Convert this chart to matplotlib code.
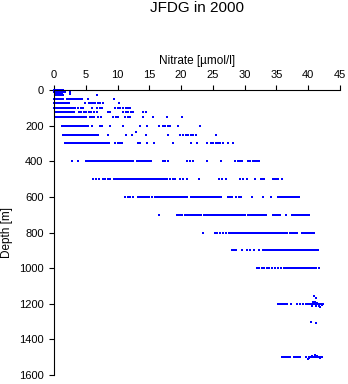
import matplotlib
matplotlib.use('Agg')
import matplotlib.pyplot as plt

plt.rcParams['font.family'] = ['Liberation Sans', 'DejaVu Sans']

# nitrate values (umol/l), one list per sampling depth
no3_0 = [0.0, 0.3, 0.6, 0.9, 1.2, 1.5]
no3_10 = [0.0, 0.3, 0.6, 0.9, 1.2, 1.5, 1.8, 2.6]
no3_20 = [0.1, 0.4, 0.7, 1.0, 1.3, 2.5]
no3_30 = [0.2, 0.5, 0.8, 1.1, 1.4, 6.8]
no3_50 = [0.0, 0.3, 0.6, 0.9, 1.2, 1.5, 2.0, 2.3, 2.6, 2.9, 3.2, 3.5, 3.8,
          4.1, 4.4, 5.3, 9.4]
no3_75 = [0.0, 0.3, 0.6, 0.9, 1.2, 1.5, 1.8, 2.1, 2.4, 4.9, 5.5, 5.8, 6.1,
          6.5, 6.9, 7.3, 7.7, 10.3]
no3_100 = [0.0, 0.3, 0.6, 0.9, 1.2, 1.5, 1.8, 2.1, 2.4, 2.7, 3.0, 3.3, 3.8,
           4.2, 4.6, 6.0, 6.8, 7.2, 7.6, 9.6, 10.0, 10.4, 10.9, 11.3, 11.7,
           12.0]
no3_125 = [0.2, 0.5, 0.8, 1.1, 1.4, 1.7, 2.0, 2.3, 2.6, 2.9, 3.2, 3.9, 4.3,
           4.7, 5.1, 5.5, 5.9, 6.3, 6.7, 8.5, 8.8, 10.9, 11.3, 11.7, 12.1,
           12.5, 14.0, 14.5]
no3_150 = [0.2, 0.5, 0.8, 1.1, 1.4, 1.7, 2.0, 2.3, 2.6, 2.9, 3.2, 3.5, 3.8,
           4.1, 4.4, 4.7, 5.0, 5.7, 6.0, 6.3, 7.0, 7.4, 9.3, 9.7, 10.1, 11.2,
           11.6, 12.0, 14.0, 15.6, 17.8, 20.2]
no3_200 = [1.2, 1.5, 1.8, 2.1, 2.4, 2.7, 3.0, 3.3, 3.6, 3.9, 4.2, 4.5, 4.8,
           5.1, 5.4, 6.0, 7.3, 7.6, 8.8, 10.9, 13.6, 14.6, 16.6, 17.1, 17.5,
           17.9, 18.3, 19.5, 23.0]
no3_250 = [1.4, 1.7, 2.0, 2.3, 2.6, 2.9, 3.2, 3.5, 3.8, 4.1, 4.4, 4.7, 5.0,
           5.3, 5.6, 5.9, 6.2, 6.5, 6.8, 7.0, 8.5, 11.4, 12.3, 14.5, 17.9,
           19.9, 20.3, 20.7, 21.1, 21.5, 21.9, 22.3, 25.5]
no3_300 = [1.7, 2.0, 2.3, 2.6, 2.9, 3.2, 3.5, 3.8, 4.1, 4.4, 4.7, 5.0, 5.3,
           5.6, 5.9, 6.2, 6.5, 6.8, 7.1, 7.4, 7.7, 8.0, 8.3, 8.7, 9.6, 10.0,
           10.4, 10.7, 13.2, 13.6, 14.6, 15.7, 21.6, 22.5, 24.1, 24.7, 25.1,
           25.5, 25.8, 26.2, 26.6, 27.4, 28.2]
no3_400 = [2.8, 3.8, 5.1, 5.4, 5.7, 6.0, 6.3, 6.6, 6.9, 7.2, 7.5, 7.8, 8.1,
           8.4, 8.7, 9.0, 9.3, 9.6, 9.9, 10.2, 10.5, 10.8, 11.1, 11.4, 11.7,
           12.0, 12.3, 12.5, 13.1, 13.4, 13.7, 14.0, 14.3, 14.6, 14.9, 15.2,
           17.1, 17.5, 18.0, 21.0, 21.4, 21.9, 24.1, 26.3, 28.5, 28.9, 29.3,
           29.6, 30.5, 30.9, 31.3, 31.7, 32.0, 32.3]
no3_500 = [6.2, 6.6, 7.1, 7.7, 8.1, 8.5, 8.8, 9.5, 9.8, 10.1, 10.4, 10.7,
           11.0, 11.3, 11.6, 11.9, 12.2, 12.5, 12.8, 13.1, 13.4, 13.7, 14.0,
           14.3, 14.6, 14.9, 15.2, 15.5, 15.8, 16.1, 16.4, 16.7, 17.0, 17.3,
           17.6, 17.8, 18.3, 18.7, 19.1, 19.9, 20.3, 20.9, 22.8, 26.0, 26.5,
           27.1, 29.2, 29.7, 30.3, 31.7, 32.5, 32.8, 33.0, 34.4, 34.7, 35.0,
           35.3, 35.8]
no3_600 = [11.2, 11.6, 12.0, 12.5, 13.2, 13.5, 13.8, 14.1, 14.4, 14.7, 15.0,
           15.4, 15.9, 16.2, 16.5, 16.8, 17.1, 17.4, 17.7, 18.0, 18.3, 18.6,
           18.9, 19.2, 19.5, 19.8, 20.1, 20.4, 20.7, 21.0, 21.5, 21.8, 22.1,
           22.4, 22.7, 23.0, 23.3, 23.6, 23.9, 24.2, 24.5, 24.8, 25.1, 25.4,
           25.7, 26.0, 26.3, 27.4, 27.7, 28.0, 28.7, 29.1, 29.5, 31.2, 32.9,
           34.1, 35.3, 35.6, 35.9, 36.2, 36.5, 36.8, 37.1, 37.4, 37.7, 38.0,
           38.3, 38.5]
no3_700 = [16.5, 19.4, 19.7, 20.0, 20.2, 20.6, 20.9, 21.1, 21.4, 21.7, 22.0,
           22.3, 22.6, 22.9, 23.2, 23.6, 23.7, 24.0, 24.3, 24.6, 24.9, 25.2,
           25.5, 25.8, 26.1, 26.4, 26.7, 27.0, 27.3, 27.6, 27.9, 28.2, 28.5,
           28.8, 29.1, 29.4, 29.7, 30.0, 30.5, 30.8, 31.1, 31.4, 31.7, 32.0,
           32.2, 32.6, 32.9, 33.2, 33.4, 34.4, 34.7, 35.0, 35.3, 35.5, 36.5,
           37.4, 37.7, 38.0, 38.3, 38.6, 38.9, 39.2, 39.5, 39.8, 40.1]
no3_800 = [23.4, 25.3, 25.7, 26.2, 26.6, 27.0, 27.5, 27.8, 28.1, 28.4, 28.7,
           29.0, 29.3, 29.6, 29.9, 30.2, 30.5, 30.8, 31.1, 31.4, 31.7, 32.0,
           32.3, 32.6, 32.9, 33.2, 33.5, 33.8, 34.1, 34.4, 34.7, 35.0, 35.3,
           35.6, 35.9, 36.2, 36.5, 36.7, 37.1, 37.4, 37.7, 38.0, 38.3, 39.1,
           39.4, 39.7, 40.0, 40.3, 40.6, 40.9]
no3_900 = [28.0, 28.3, 28.6, 29.6, 30.4, 30.9, 31.5, 32.3, 32.9, 33.2, 33.5,
           33.8, 34.1, 34.4, 34.7, 35.0, 35.3, 35.6, 35.9, 36.2, 36.5, 36.8,
           37.1, 37.4, 37.7, 38.0, 38.3, 38.6, 38.9, 39.2, 39.5, 39.8, 40.1,
           40.4, 40.7, 41.0, 41.3, 41.5]
no3_1000 = [32.0, 32.3, 32.7, 33.1, 33.5, 33.9, 34.3, 34.7, 35.2, 35.7, 36.2,
            36.5, 36.8, 37.1, 37.4, 37.7, 38.0, 38.3, 38.6, 38.9, 39.2, 39.5,
            39.8, 40.1, 40.4, 40.7, 41.0, 41.3, 41.7]
no3_1200 = [35.2, 35.5, 35.8, 36.1, 36.4, 36.7, 37.3, 38.3, 38.7, 39.2, 39.6,
            39.9, 40.2, 40.5, 40.8, 41.1, 41.4, 41.7, 42.0, 42.4]
no3_1500 = [35.9, 36.2, 36.5, 36.8, 37.1, 37.8, 38.1, 38.4, 38.7, 39.7, 40.1,
            40.4, 40.7, 41.0, 41.3, 41.6, 41.9, 42.1]

depths = [0, 10, 20, 30, 50, 75, 100, 125, 150, 200, 250, 300, 400, 500,
          600, 700, 800, 900, 1000, 1200, 1500]
profiles = [no3_0, no3_10, no3_20, no3_30, no3_50, no3_75, no3_100, no3_125,
            no3_150, no3_200, no3_250, no3_300, no3_400, no3_500, no3_600,
            no3_700, no3_800, no3_900, no3_1000, no3_1200, no3_1500]

# odd samples off the standard depths
extra_depth = [235, 295, 1155, 1166, 1190, 1192, 1195, 1205, 1210, 1212,
               1215, 1220, 1305, 1310, 1490, 1493, 1495, 1505, 1507, 1510]
extra_no3 = [12.9, 18.7, 40.9, 41.3, 41.0, 40.8, 41.4, 42.2, 41.2, 40.6,
             41.7, 41.9, 40.4, 41.3, 41.0, 41.4, 40.6, 40.2, 41.8, 40.0]

x_ticks = [0, 5, 10, 15, 20, 25, 30, 35, 40, 45]
y_ticks = [0, 200, 400, 600, 800, 1000, 1200, 1400, 1600]

fig = plt.figure(figsize=(3.48, 3.84), dpi=100)
ax = fig.add_axes([0.155, 0.0234, 0.822, 0.7422])

for d, vals in zip(depths, profiles):
    ax.plot(vals, [d] * len(vals), 's', color='#0000ff', ms=1.9, mew=0,
            clip_on=False)
ax.plot(extra_no3, extra_depth, 's', color='#0000ff', ms=1.9, mew=0,
        clip_on=False)

ax.set_xlim(0, 45)
ax.set_ylim(1600, 0)
ax.set_xticks(x_ticks)
ax.set_yticks(y_ticks)
ax.xaxis.tick_top()
ax.xaxis.set_label_position('top')
ax.spines['right'].set_visible(False)
ax.spines['bottom'].set_visible(False)
ax.tick_params(axis='both', direction='out', length=3.5, width=0.8,
               labelsize=8, pad=4)
ax.set_xlabel('Nitrate [µmol/l]', fontsize=8.5, labelpad=4)
ax.set_ylabel('Depth [m]', fontsize=8.5)
ax.yaxis.set_label_coords(-0.143, 0.5)

fig.text(0.566, 0.979, 'JFDG in 2000', ha='center', va='center', fontsize=11)

fig.savefig('out.png', dpi=100)
